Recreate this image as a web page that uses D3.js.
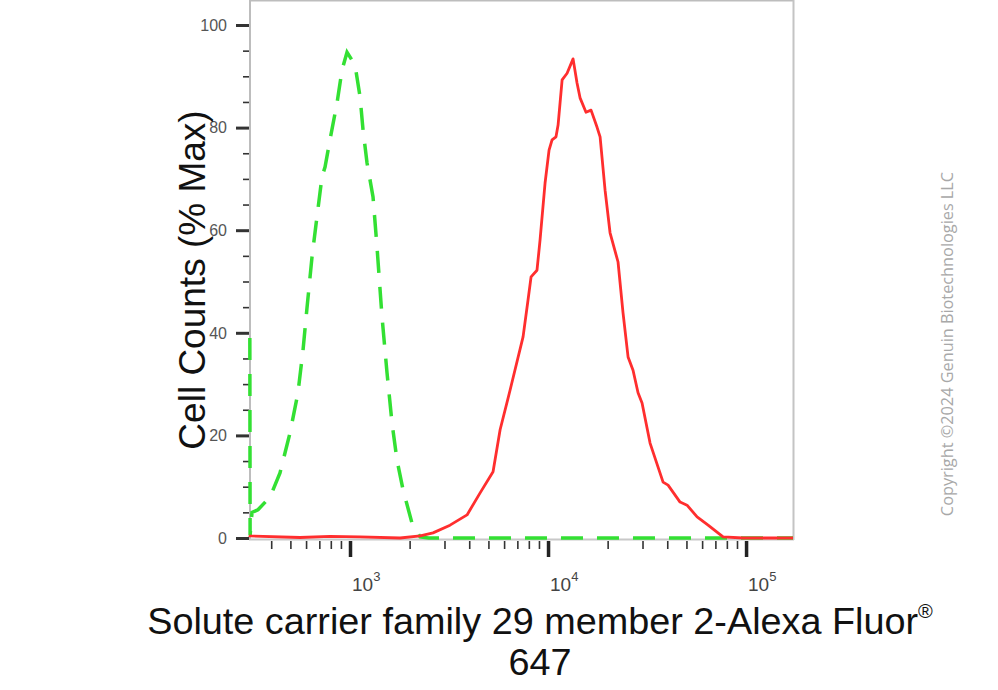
<!DOCTYPE html>
<html><head><meta charset="utf-8">
<script src="https://cdn.jsdelivr.net/npm/d3@7"></script>
<style>body{margin:0;background:#fff}svg{display:block}</style>
</head><body><svg id="c" width="998" height="690"></svg>
<script>
// ---- data ----
const redX = [309,312,559,792,1124,1791,2262,2626,3200,3900,4540,5277,5728,6430,7480,7925,8210,8796,9115,9660,10120,10480,10970,11240,11780,12480,13380,14010,14510,15550,16490,17670,18320,19410,20570,22570,23920,25360,26870,28480,29840,32750,38100,40380,46420,50350,56590,64310,76540,96640,172600];
const redY = [0.5,0.4,0.1,0.3,0.2,0,0.4,1.0,2.5,4.5,8.8,12.9,21.1,28.8,39.2,46.4,50.9,52.2,58.1,69.2,75.6,77.6,78.2,80.5,89.3,90.6,93.4,88.7,85.8,83.0,83.4,80.1,78.2,67.8,59.5,53.8,43.9,35.3,32.7,28.3,26.3,18.5,10.9,10.3,7.0,6.4,4.1,2.5,0.2,0,0];
const greenX = [312,313,320,343,395,443,498,546,579,607,643,681,722,748,792,860,911,966,1060,1124,1164,1219,1307,1369,1451,1538,1630,1727,1853,2056,2259,2500,172600];
const greenY = [39,0.5,5,5.5,8.0,12.7,20.5,28.3,36.6,45.0,54.8,62.6,70.4,72.3,77.6,84.8,91.2,94.7,92.2,86.0,79.5,73.1,66.5,56.7,43.1,32.2,22.4,15.2,9.4,2.9,0.2,0,0];
const yMajor = [0,20,40,60,80,100];
const yMinor = [5,10,15,25,30,35,45,50,55,65,70,75,85,90,95];
const xMajor = [1000,10000,100000];
const xMajorBase = ["10","10","10"];
const xMajorExp = ["3","4","5"];
const xMinor = [400,500,600,700,800,900,2000,3000,4000,5000,6000,7000,8000,9000,20000,30000,40000,50000,60000,70000,80000,90000];
const yTitle = "Cell Counts (% Max)";
const xTitle1 = "Solute carrier family 29 member 2-Alexa Fluor";
const xTitle2 = "647";
const copyright = "Copyright ©2024 Genuin Biotechnologies LLC";

// ---- drawing ----
const svg = d3.select("#c");
const x = d3.scaleLog().domain([309,172600]).range([249,793]);
const y = d3.scaleLinear().domain([0,100]).range([538,25]);

// frame
svg.append("line").attr("x1",249).attr("x2",794).attr("y1",0.75).attr("y2",0.75).attr("stroke","#bdbdbd").attr("stroke-width",1.5);
svg.append("line").attr("x1",793.5).attr("x2",793.5).attr("y1",0).attr("y2",540).attr("stroke","#c4c4c4").attr("stroke-width",2);
svg.append("line").attr("x1",250).attr("x2",250).attr("y1",0).attr("y2",540).attr("stroke","#bdbdbd").attr("stroke-width",2);
svg.append("line").attr("x1",249).attr("x2",794).attr("y1",539.5).attr("y2",539.5).attr("stroke","#c8c8c8").attr("stroke-width",2);

// y axis ticks
function styleAxis(g,w,col){ g.select(".domain").remove(); g.selectAll("line").attr("stroke",col).attr("stroke-width",w); }
svg.append("g").attr("transform","translate(249,0)")
  .call(d3.axisLeft(y).tickValues(yMinor).tickSize(6).tickFormat(""))
  .call(g=>styleAxis(g,1.6,"#333"));
svg.append("g").attr("transform","translate(249,0)")
  .call(d3.axisLeft(y).tickValues(yMajor).tickSize(13).tickFormat(""))
  .call(g=>styleAxis(g,3,"#333"));
svg.append("g").selectAll("text").data(yMajor).join("text")
  .attr("x",227).attr("y",d=>y(d)).attr("dy","0.36em").attr("text-anchor","end")
  .attr("font-family","Liberation Sans, Arial, sans-serif").attr("font-size",16).attr("fill","#555")
  .text(d=>d);

// x axis ticks
svg.append("g").attr("transform","translate(0,541)")
  .call(d3.axisBottom(x).tickValues(xMinor).tickSize(8).tickFormat(""))
  .call(g=>styleAxis(g,1.6,"#333"));
svg.append("g").attr("transform","translate(0,541)")
  .call(d3.axisBottom(x).tickValues(xMajor).tickSize(16).tickFormat(""))
  .call(g=>styleAxis(g,3.5,"#222"));
const xl = svg.append("g").selectAll("text").data(xMajor).join("text")
  .attr("x",(d)=>x(d)+2).attr("y",591)
  .attr("font-family","Liberation Sans, Arial, sans-serif").attr("font-size",19).attr("fill","#444");
xl.append("tspan").text((d,i)=>xMajorBase[i]);
xl.append("tspan").attr("font-size",13).attr("dy",-10).text((d,i)=>xMajorExp[i]);

// curves
const line = d3.line().x(d=>x(d[0])).y(d=>y(d[1]));
svg.append("path").datum(greenX.map((v,i)=>[v,greenY[i]]))
  .attr("d",line).attr("fill","none").attr("stroke","#33e033").attr("stroke-width",3.5)
  .attr("stroke-dasharray","22,14");
svg.append("path").datum(redX.map((v,i)=>[v,redY[i]]))
  .attr("d",line).attr("fill","none").attr("stroke","#ff2e2e").attr("stroke-width",2.8)
  .attr("stroke-linejoin","round");

// titles
svg.append("text").attr("transform","translate(205,280) rotate(-90)").attr("text-anchor","middle")
  .attr("font-family","Liberation Sans, Arial, sans-serif").attr("font-size",37).attr("fill","#111")
  .text(yTitle);
const t1 = svg.append("text").attr("x",540).attr("y",634).attr("text-anchor","middle")
  .attr("font-family","Liberation Sans, Arial, sans-serif").attr("font-size",37.8).attr("fill","#111");
t1.append("tspan").text(xTitle1);
t1.append("tspan").attr("font-size",20).attr("dy",-16).text("®");
svg.append("text").attr("x",540).attr("y",675).attr("text-anchor","middle")
  .attr("font-family","Liberation Sans, Arial, sans-serif").attr("font-size",37.8).attr("fill","#111")
  .text(xTitle2);
svg.append("text").attr("transform","translate(953,344) rotate(-90)").attr("text-anchor","middle")
  .attr("font-family","Open Sans, sans-serif").attr("font-size",16.3).attr("fill","#a8a8a8")
  .text(copyright);
</script></body></html>
